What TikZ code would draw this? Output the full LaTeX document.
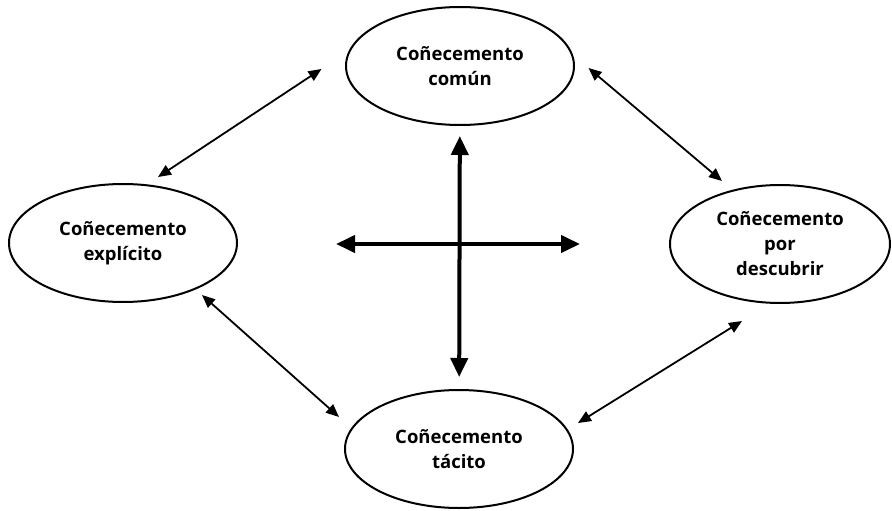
\documentclass[tikz,border=0pt]{standalone}
\usepackage{fontspec}
\setmainfont{Open Sans}
\usetikzlibrary{arrows.meta,shapes.geometric}

\begin{document}
\begin{tikzpicture}[x=1pt,y=-1pt,
  know/.style={draw,ellipse,line width=2pt,inner sep=0pt,minimum width=228pt,minimum height=118pt,
    font=\fontsize{18.5}{25}\selectfont\bfseries,align=center},
  arr/.style={{Triangle[length=13pt,width=11pt]}-{Triangle[length=13pt,width=11pt]},line width=1.8pt},
  bigarr/.style={{Triangle[length=19pt,width=17pt]}-{Triangle[length=19pt,width=17pt]},line width=4pt}
]
  \useasboundingbox (0,0) rectangle (892,511);
  % Kinds of knowledge
  \node[know] (comun) at (460,66) {Coñecemento\\común};
  \node[know] (explicito) at (123,243) {Coñecemento\\explícito};
  \node[know,minimum width=220pt] (descubrir) at (780,244) {Coñecemento\\por\\descubrir};
  \node[know] (tacito) at (459,449) {Coñecemento\\tácito};
  % Cross in the middle
  \coordinate (izq) at (336,244);
  \coordinate (der) at (580,244);
  \draw[bigarr,shorten <=10pt,shorten >=12pt] (comun) -- (tacito);
  \draw[bigarr] (izq) -- (der);
  % Links between neighbours
  \draw[arr] ([shift={(-23.5,3)}]comun.west) -- ([shift={(35,-6)}]explicito.north);
  \draw[arr] ([shift={(13.5,2)}]comun.east) -- ([shift={(-58,-3)}]descubrir.north);
  \draw[arr] ([shift={(79,-8)}]explicito.south) -- ([shift={(-5,-32)}]tacito.west);
  \draw[arr] ([shift={(-38,17)}]descubrir.south) -- ([shift={(4,-26)}]tacito.east);
\end{tikzpicture}
\end{document}
